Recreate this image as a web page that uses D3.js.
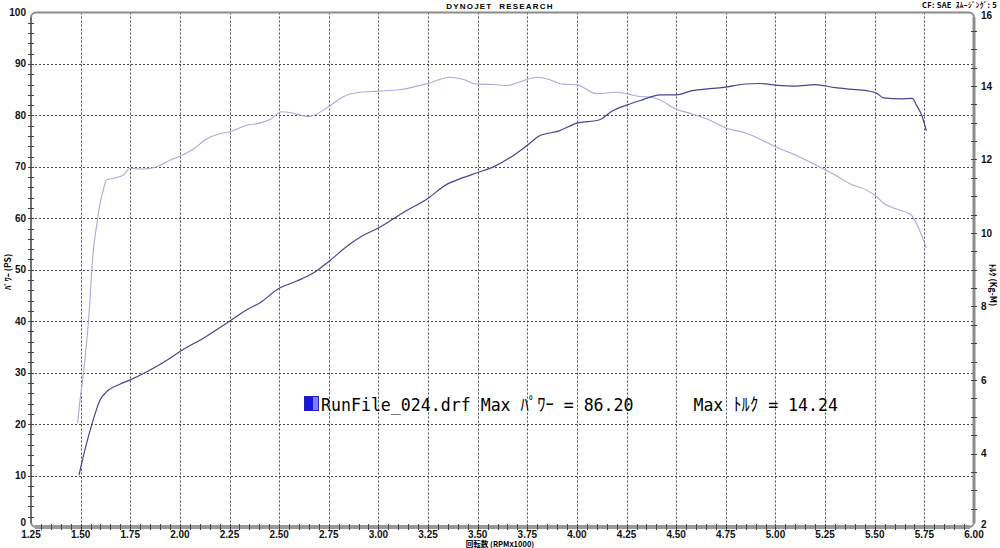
<!DOCTYPE html>
<html><head><meta charset="utf-8">
<script src="https://cdn.jsdelivr.net/npm/d3@7/dist/d3.min.js"></script>
<style>html,body{margin:0;padding:0;background:#fff;}svg{display:block;}</style>
</head><body>
<svg id="c" width="1000" height="548"></svg>
<script>
// ---- data ----
const rpmPower = [1.492,1.50,1.557,1.598,1.631,1.70,1.75,1.85,1.95,2.0,2.118,2.25,2.35,2.40,2.5,2.588,2.67,2.75,2.84,2.92,3.0,3.12,3.25,3.34,3.42,3.5,3.58,3.66,3.75,3.81,3.91,4.0,4.11,4.18,4.25,4.32,4.42,4.5,4.58,4.67,4.75,4.85,4.92,5.0,5.1,5.2,5.3,5.375,5.46,5.51,5.545,5.63,5.69,5.71,5.74,5.76];
const powerPS = [10.1,11.5,20.0,24.7,26.3,27.8,28.6,30.5,32.8,34.1,36.7,40.0,42.5,43.5,46.4,47.8,49.3,51.6,54.5,56.6,58.1,61.0,63.9,66.5,67.8,68.9,70.0,71.7,74.2,76.0,77.0,78.5,79.1,80.9,82.0,82.9,84.0,84.0,84.8,85.2,85.5,86.1,86.2,85.9,85.7,86.0,85.4,85.1,84.8,84.3,83.4,83.2,83.3,82.0,79.7,77.0];
const rpmTorque = [1.485,1.497,1.51,1.547,1.556,1.564,1.58,1.598,1.614,1.63,1.665,1.715,1.75,1.816,1.883,1.95,2.0,2.067,2.135,2.2,2.25,2.336,2.40,2.454,2.513,2.555,2.647,2.69,2.75,2.82,2.907,3.0,3.12,3.25,3.36,3.42,3.5,3.58,3.646,3.71,3.80,3.85,3.93,4.0,4.10,4.20,4.30,4.40,4.5,4.58,4.67,4.75,4.85,4.92,5.0,5.1,5.25,5.3,5.375,5.46,5.51,5.545,5.61,5.68,5.71,5.76];
const torqueKgm = [4.83,5.46,6.00,8.17,9.00,9.53,10.18,10.81,11.17,11.44,11.49,11.58,11.76,11.74,11.80,11.98,12.09,12.28,12.56,12.70,12.75,12.93,12.99,13.09,13.30,13.28,13.17,13.24,13.44,13.70,13.83,13.86,13.91,14.07,14.24,14.19,14.05,14.04,14.01,14.11,14.24,14.19,14.05,14.03,13.79,13.83,13.73,13.66,13.37,13.24,13.07,12.86,12.72,12.56,12.35,12.12,11.72,11.58,11.34,11.16,10.99,10.81,10.65,10.51,10.26,9.59];
const xTickLabels = ["1.25","1.50","1.75","2.00","2.25","2.50","2.75","3.00","3.25","3.50","3.75","4.00","4.25","4.50","4.75","5.00","5.25","5.50","5.75","6.00"];
const leftTicks = [0,10,20,30,40,50,60,70,80,90,100];
const rightTicks = [2,4,6,8,10,12,14,16];
const title = "DYNOJET  RESEARCH";
const cfText = "CF: SAE  ｽﾑｰｼﾞﾝｸﾞ: 5";
const xTitle = "回転数 (RPMx1000)";
const yTitle = "ﾊﾟﾜｰ (PS)";
const y2Title = "ﾄﾙｸ (Kg-M)";
const legendText = "RunFile_024.drf Max ﾊﾟﾜｰ = 86.20      Max ﾄﾙｸ = 14.24";

// ---- scales ----
const L = 31, R = 974, T = 12.5, B = 527;
const x = d3.scaleLinear().domain([1.25, 6.0]).range([L, R]);
const y = d3.scaleLinear().domain([0, 100]).range([B, T]);
const y2 = d3.scaleLinear().domain([2, 16]).range([B, T]);

const svg = d3.select("#c");
const lblFont = "'Liberation Sans', Arial, sans-serif";
const jpFont = "'Noto Sans CJK JP', sans-serif";

// grid
const g = svg.append("g").attr("stroke", "#4a4a4a").attr("stroke-width", 1).attr("stroke-dasharray", "2,2");
xTickLabels.slice(1, -1).forEach(t => {
  const xv = Math.round(x(+t)) + 0.5;
  g.append("line").attr("x1", xv).attr("x2", xv).attr("y1", T).attr("y2", B);
});
leftTicks.slice(1, -1).forEach(t => {
  const yv = Math.round(y(t)) + 0.5;
  g.append("line").attr("x1", L).attr("x2", R).attr("y1", yv).attr("y2", yv);
});

// frame
svg.append("rect").attr("x", L).attr("y", T).attr("width", R - L).attr("height", B - T)
  .attr("rx", 5).attr("fill", "none").attr("stroke", "#8c8c8c").attr("stroke-width", 2);
svg.append("line").attr("x1", L + 4).attr("x2", R - 4).attr("y1", B).attr("y2", B).attr("stroke", "#999").attr("stroke-width", 4);
svg.append("line").attr("x1", R).attr("x2", R).attr("y1", T + 5).attr("y2", B - 4).attr("stroke", "#8c8c8c").attr("stroke-width", 3);
svg.append("line").attr("x1", L).attr("x2", L).attr("y1", T + 5).attr("y2", B - 4).attr("stroke", "#666").attr("stroke-width", 1.5);

// minor ticks
const tk = svg.append("g").attr("stroke", "#444").attr("stroke-width", 1);
d3.range(2, 100, 2).forEach(v => {
  const yv = Math.round(y(v)) + 0.5;
  tk.append("line").attr("x1", L - 3).attr("x2", L + 3).attr("y1", yv).attr("y2", yv);
});
d3.range(1.30, 5.999, 0.05).forEach(v => {
  const xv = Math.round(x(v)) + 0.5;
  tk.append("line").attr("x1", xv).attr("x2", xv).attr("y1", B - 3).attr("y2", B + 3);
});
d3.range(2.5, 16, 0.5).forEach(v => {
  const yv = Math.round(y2(v)) + 0.5;
  tk.append("line").attr("x1", R - 3).attr("x2", R + 3).attr("y1", yv).attr("y2", yv);
});

// tick labels
const tl = svg.append("g").attr("font-family", lblFont).attr("font-weight", "bold").attr("font-size", 10).attr("fill", "#111");
leftTicks.forEach(t => {
  tl.append("text").attr("x", 26).attr("y", y(t) + (t === 0 ? -1 : 3.5)).attr("text-anchor", "end").text(t);
});
xTickLabels.forEach(t => {
  tl.append("text").attr("x", x(+t)).attr("y", 537.5).attr("text-anchor", "middle").text(t);
});
rightTicks.forEach(t => {
  tl.append("text").attr("x", 981).attr("y", y2(t) + (t === 16 ? 6 : t === 2 ? 1 : 3.5)).attr("text-anchor", "start").text(t);
});

// titles
svg.append("text").attr("x", 500).attr("y", 8.5).attr("text-anchor", "middle")
  .attr("font-family", lblFont).attr("font-weight", "bold").attr("font-size", 8).attr("letter-spacing", 1.2)
  .attr("xml:space", "preserve").style("white-space", "pre").text(title);
svg.append("text").attr("x", 997).attr("y", 7.5).attr("text-anchor", "end")
  .attr("font-family", jpFont).attr("font-weight", "bold").attr("font-size", 7.5).attr("letter-spacing", 0.3)
  .attr("xml:space", "preserve").style("white-space", "pre").text(cfText);
svg.append("text").attr("x", 500).attr("y", 547).attr("text-anchor", "middle")
  .attr("font-family", jpFont).attr("font-weight", "bold").attr("font-size", 7.5).text(xTitle);
svg.append("text").attr("transform", "translate(11,272) rotate(-90)").attr("text-anchor", "middle")
  .attr("font-family", jpFont).attr("font-weight", "bold").attr("font-size", 8.5).text(yTitle);
svg.append("text").attr("transform", "translate(990,285) rotate(90)").attr("text-anchor", "middle")
  .attr("font-family", jpFont).attr("font-weight", "bold").attr("font-size", 8.5).text(y2Title);

// curves
const powerData = rpmPower.map((r, i) => [r, powerPS[i]]);
const torqueData = rpmTorque.map((r, i) => [r, torqueKgm[i]]);
svg.append("path").datum(torqueData)
  .attr("d", d3.line().x(d => x(d[0])).y(d => y2(d[1])).curve(d3.curveMonotoneX))
  .attr("fill", "none").attr("stroke", "#aaaad8").attr("stroke-width", 1.1);
svg.append("path").datum(powerData)
  .attr("d", d3.line().x(d => x(d[0])).y(d => y(d[1])).curve(d3.curveMonotoneX))
  .attr("fill", "none").attr("stroke", "#45458f").attr("stroke-width", 1.2);

// legend
svg.append("rect").attr("x", 304.5).attr("y", 396.5).attr("width", 14).attr("height", 14).attr("fill", "#8080ff").attr("stroke", "#2222aa");
svg.append("rect").attr("x", 305).attr("y", 397).attr("width", 8).attr("height", 13).attr("fill", "#1515e6");
svg.append("text").attr("x", 321).attr("y", 411).attr("font-family", "'DejaVu Sans Mono', 'Noto Sans CJK JP', monospace")
  .attr("font-size", 18).attr("textLength", 517).attr("lengthAdjust", "spacingAndGlyphs").attr("fill", "#000")
  .attr("xml:space", "preserve").style("white-space", "pre").text(legendText);
</script>
</body></html>
